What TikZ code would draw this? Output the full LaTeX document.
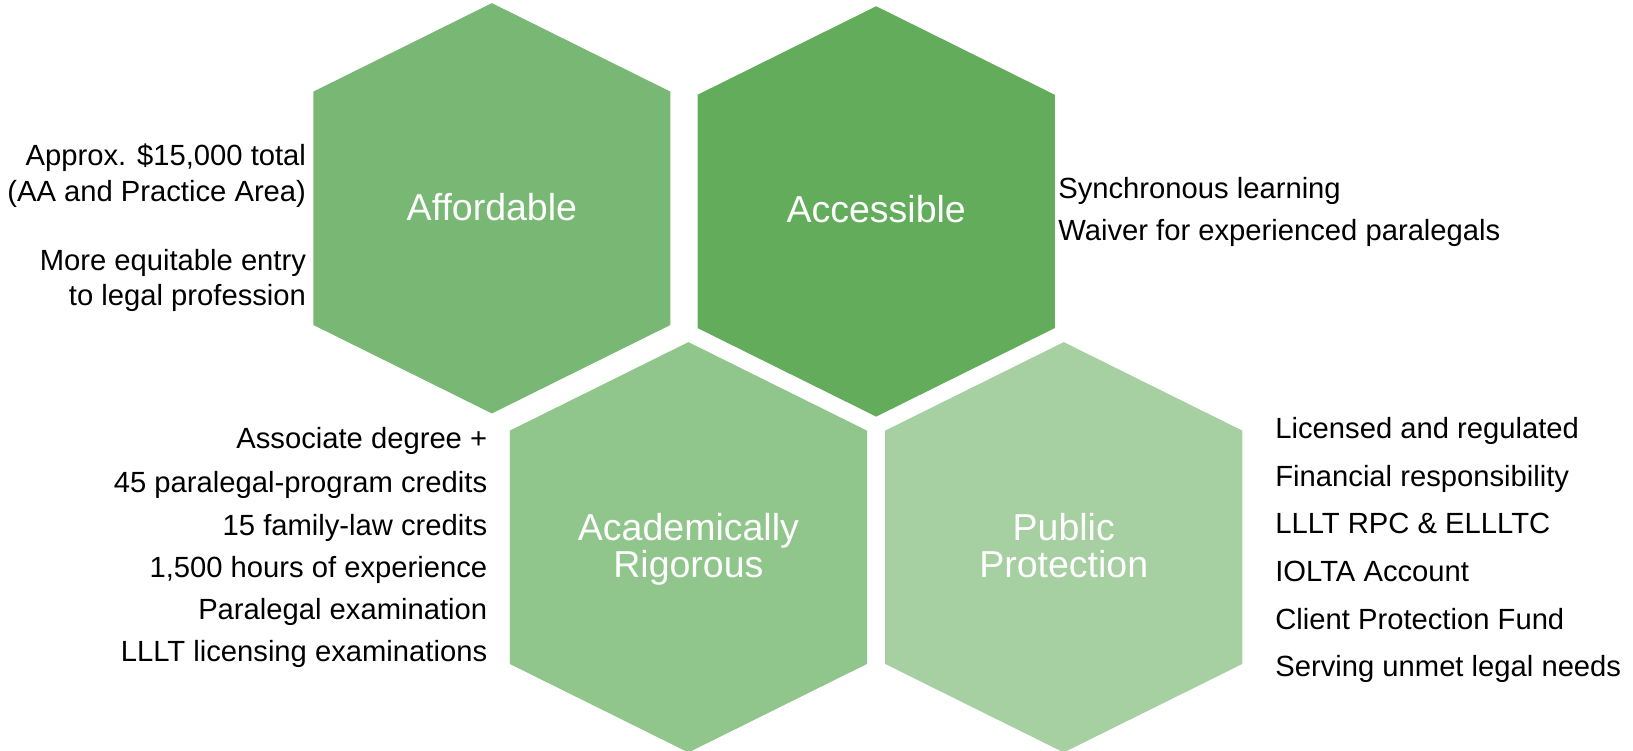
\documentclass[tikz,border=0pt]{standalone}
\usepackage{fontspec}
\setmainfont{Liberation Sans}
\begin{document}
\begin{tikzpicture}[x=1.0414pt,y=-1.0414pt,
  hexlabel/.style={text=white,font=\fontsize{37.5}{39}\selectfont,inner sep=0pt,anchor=base},
  sideR/.style={text=black,font=\fontsize{29.2}{35}\selectfont,inner sep=0pt,anchor=base east},
  sideL/.style={text=black,font=\fontsize{29.2}{35}\selectfont,inner sep=0pt,anchor=base west}]
\definecolor{affcol}{RGB}{120,184,116}
\definecolor{acccol}{RGB}{98,172,91}
\definecolor{acacol}{RGB}{144,198,140}
\definecolor{pubcol}{RGB}{166,207,162}
\useasboundingbox (0,0) rectangle (1568,721.1);
\tikzset{hexshape/.style={shift={#1}}}
\newcommand\hexpath{(0,-197) -- (171.5,-112) -- (171.5,112) -- (0,197) -- (-171.5,112) -- (-171.5,-112) -- cycle}
% hexagons
\fill[affcol,hexshape={(472.3,200)}] \hexpath;
\fill[acccol,hexshape={(841.3,203)}] \hexpath;
\fill[acacol,hexshape={(661,525.5)}] \hexpath;
\fill[pubcol,hexshape={(1021.4,525.5)}] \hexpath;
% hexagon labels
\node[hexlabel] (aff) at (472.3,211.5) {Affordable};
\node[hexlabel] (acc) at (841.3,214) {Accessible};
\node[hexlabel] (acaA) at (661,518.6) {Academically};
\node[hexlabel] (acaB) at (661,554.5) {Rigorous};
\node[hexlabel] (pubA) at (1021.4,518.6) {Public};
\node[hexlabel] (pubB) at (1021.4,554.5) {Protection};
% Affordable notes
\node[sideR] (af1) at (294,159.3) {Approx. \$15,000 total};
\node[sideR] (af2) at (294,193.3) {(AA and Practice Area)};
\node[sideR] (af3) at (294,260) {More equitable entry};
\node[sideR] (af4) at (294,293.5) {to legal profession};
% Accessible notes
\node[sideL] (ac1) at (1016,190.4) {Synchronous learning};
\node[sideL] (ac2) at (1016,231.4) {Waiver for experienced paralegals};
% Academic notes
\node[sideR] (ar1) at (468,430.5) {Associate degree +};
\node[sideR] (ar2) at (468,472.8) {45 paralegal-program credits};
\node[sideR] (ar3) at (468,514.4) {15 family-law credits};
\node[sideR] (ar4) at (468,554.5) {1,500 hours of experience};
\node[sideR] (ar5) at (468,594.5) {Paralegal examination};
\node[sideR] (ar6) at (468,634.8) {LLLT licensing examinations};
% Public protection notes
\node[sideL] (pp1) at (1224.4,421.5) {Licensed and regulated};
\node[sideL] (pp2) at (1224.4,467) {Financial responsibility};
\node[sideL] (pp3) at (1224.4,512.5) {LLLT RPC \& ELLLTC};
\node[sideL] (pp4) at (1224.4,558.2) {IOLTA Account};
\node[sideL] (pp5) at (1224.4,604) {Client Protection Fund};
\node[sideL] (pp6) at (1224.4,649.8) {Serving unmet legal needs};
\end{tikzpicture}
\end{document}
